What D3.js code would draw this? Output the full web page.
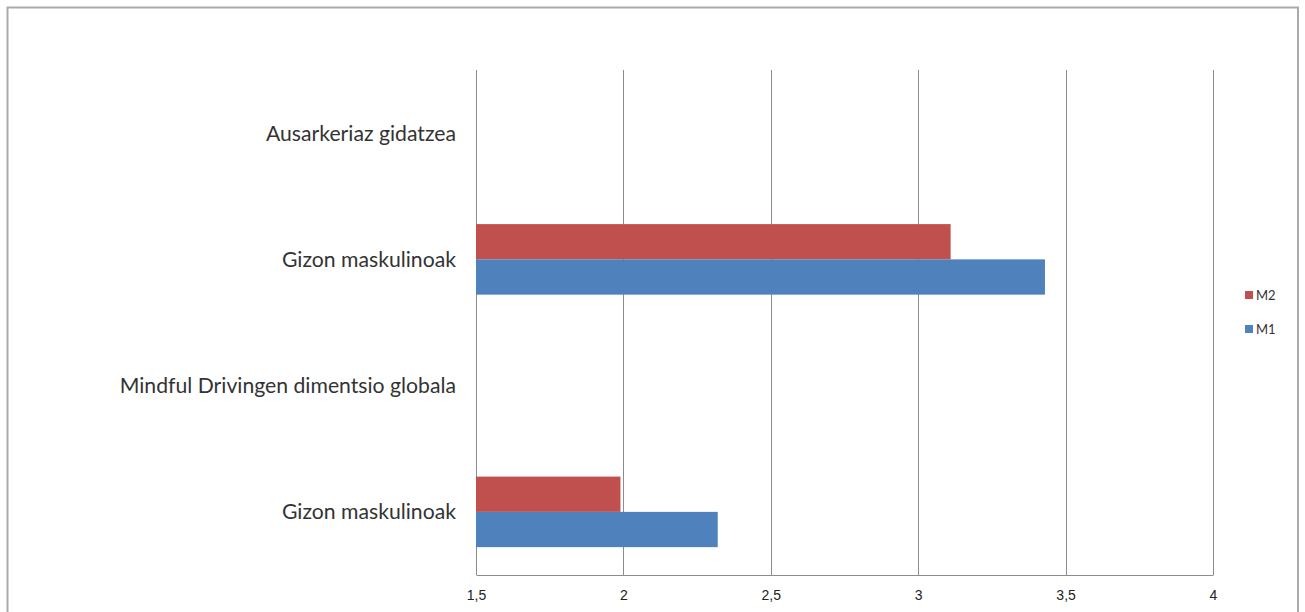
<!DOCTYPE html>
<html>
<head>
<meta charset="utf-8">
<script src="https://cdn.jsdelivr.net/npm/d3@7"></script>
<style>
  html, body { margin: 0; padding: 0; background: #fff; }
  svg { display: block; }
</style>
</head>
<body>
<svg id="chart" width="1305" height="612"></svg>
<script>
// Categories, top to bottom
const categories = ["Ausarkeriaz gidatzea", "Gizon maskulinoak", "Mindful Drivingen dimentsio globala", "Gizon maskulinoak"];
const seriesNames = ["M2", "M1"];
const m2Values = [null, 3.11, null, 1.99];
const m1Values = [null, 3.43, null, 2.32];
const xTicks = [1.5, 2, 2.5, 3, 3.5, 4];
const xTickLabels = ["1,5", "2", "2,5", "3", "3,5", "4"];
const colors = { M2: "#C0504D", M1: "#4F81BD" };

const svg = d3.select("#chart");

// outer chart border
svg.append("rect")
  .attr("x", 7.5).attr("y", 7.5)
  .attr("width", 1290.5).attr("height", 640)
  .attr("fill", "#fff").attr("stroke", "#ababab").attr("stroke-width", 2);

const plot = { left: 476, right: 1213, top: 70, bottom: 575 };

const x = d3.scaleLinear().domain([1.5, 4]).range([plot.left, plot.right]);
const y = d3.scaleBand().domain(d3.range(categories.length)).range([plot.top, plot.bottom]);
const inner = d3.scaleBand().domain(seriesNames).range([0, y.bandwidth()]).paddingOuter(0.79).paddingInner(0);

// vertical grid lines
svg.append("g").selectAll("line").data(xTicks).join("line")
  .attr("x1", d => Math.round(x(d)) + 0.5).attr("x2", d => Math.round(x(d)) + 0.5)
  .attr("y1", plot.top).attr("y2", plot.bottom)
  .attr("stroke", "#8c8c8c").attr("stroke-width", 1);

// bars
const rows = categories.map((c, i) => ({ i, M2: m2Values[i], M1: m1Values[i] }));
seriesNames.forEach(s => {
  svg.append("g").selectAll("rect")
    .data(rows.filter(r => r[s] != null))
    .join("rect")
    .attr("x", x(1.5))
    .attr("y", r => y(r.i) + inner(s))
    .attr("width", r => x(r[s]) - x(1.5))
    .attr("height", inner.bandwidth())
    .attr("fill", colors[s]);
});

// bottom axis
const xAxis = d3.axisBottom(x).tickValues(xTicks)
  .tickFormat((d, i) => xTickLabels[i]).tickSize(0).tickPadding(15);
const gx = svg.append("g").attr("transform", `translate(0,${plot.bottom})`).call(xAxis);
gx.select(".domain").attr("stroke", "#8c8c8c").attr("stroke-width", 1.2);
gx.selectAll("text")
  .attr("font-family", "'Liberation Sans Narrow', 'Arial Narrow', sans-serif")
  .attr("font-size", 14).attr("fill", "#222");

// category labels
svg.append("g").selectAll("text").data(categories).join("text")
  .attr("x", 456)
  .attr("y", (d, i) => y(i) + y.bandwidth() / 2)
  .attr("dy", "0.35em")
  .attr("text-anchor", "end")
  .attr("font-family", "Lato, 'Open Sans', sans-serif")
  .attr("font-size", 21.2)
  .attr("fill", "#333")
  .text(d => d);

// legend
const legend = svg.append("g");
seriesNames.forEach((s, k) => {
  const ly = 295 + k * 34;
  legend.append("rect").attr("x", 1245).attr("y", ly - 4).attr("width", 8).attr("height", 8).attr("fill", colors[s]);
  legend.append("text").attr("x", 1256).attr("y", ly).attr("dy", "0.35em")
    .attr("font-family", "Lato, sans-serif").attr("font-size", 13).attr("fill", "#333").text(s);
});
</script>
</body>
</html>
